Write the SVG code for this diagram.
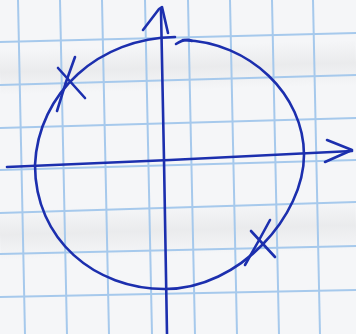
<svg xmlns="http://www.w3.org/2000/svg" width="356" height="334" viewBox="0 0 356 334">
<defs>
<style>
.grid{stroke:#a6c9ec;stroke-width:2;fill:none}
.ink{stroke:#1c2fae;stroke-width:2.6;fill:none;stroke-linecap:round;stroke-linejoin:round}
</style>
<linearGradient id="band" x1="0" y1="0" x2="0" y2="1">
<stop offset="0" stop-color="#888" stop-opacity="0"/>
<stop offset="0.5" stop-color="#888" stop-opacity="0.1"/>
<stop offset="1" stop-color="#888" stop-opacity="0"/>
</linearGradient>
</defs>
<rect width="356" height="334" fill="#f5f6f8"/>
<g id="shading">
<rect x="0" y="45" width="356" height="45" fill="url(#band)" transform="rotate(-1.6 178 67)"/>
<rect x="0" y="205" width="356" height="50" fill="url(#band)" transform="rotate(-1.6 178 230)"/>
</g>
<g id="grid" class="grid">
<line x1="18" y1="0" x2="25" y2="334"/>
<line x1="60" y1="0" x2="67" y2="334"/>
<line x1="102" y1="0" x2="109" y2="334"/>
<line x1="145" y1="0" x2="152" y2="334"/>
<line x1="188" y1="0" x2="195" y2="334"/>
<line x1="230" y1="0" x2="237" y2="334"/>
<line x1="272" y1="0" x2="279" y2="334"/>
<line x1="313" y1="0" x2="320" y2="334"/>
<line x1="0" y1="42" x2="356" y2="33"/>
<line x1="0" y1="85" x2="356" y2="75"/>
<line x1="0" y1="128" x2="356" y2="118"/>
<line x1="0" y1="170" x2="356" y2="160"/>
<line x1="0" y1="213" x2="356" y2="202"/>
<line x1="0" y1="254" x2="356" y2="246"/>
<line x1="0" y1="297" x2="356" y2="290"/>
</g>
<g id="connectors" class="ink">
<path id="y-axis" d="M167,334 L164,160 L161,10"/>
<path id="y-arrow" d="M143,30 L159,9 L162,7 L168,33"/>
<path id="x-axis" d="M7,167 L170,160 L352,151"/>
<path id="x-arrow" d="M327,140 L352,150 L325,162"/>
</g>
<g id="circle" class="ink">
<path d="M175,37 C100,38 38,92 35,165 C35,240 95,289 165,289 C240,289 304,215 304,155 C304,95 250,42 183,40"/>
<path d="M176,44 C182,40 188,39 192,41"/>
</g>
<g id="mark-upper-left" class="ink">
<path d="M58,68 L85,98"/>
<path d="M75,57 L66,82 L57,111"/>
</g>
<g id="mark-lower-right" class="ink">
<path d="M251,231 L275,257"/>
<path d="M270,220 L258,242 L245,265"/>
</g>
</svg>
